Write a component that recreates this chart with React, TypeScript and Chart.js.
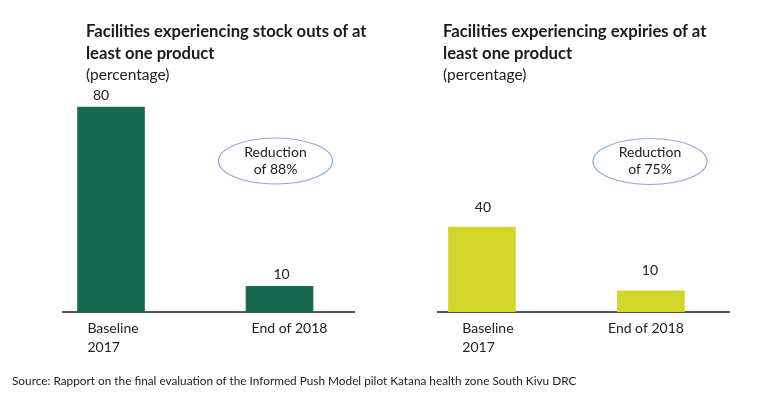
import React, { useEffect, useRef } from "react";
import { Chart, registerables } from "chart.js";

Chart.register(...registerables);

// ---------- data ----------
const categoryLines: string[][] = [["Baseline", "2017"], ["End of 2018"]];
const stockOutValues = [80, 10];
const expiryValues = [40, 10];
const stockOutTitle = ["Facilities experiencing stock outs of at", "least one product"];
const expiryTitle = ["Facilities experiencing expiries of at", "least one product"];
const unitLabel = "(percentage)";
const stockOutNote = ["Reduction", "of 88%"];
const expiryNote = ["Reduction", "of 75%"];
const sourceText =
  "Source: Rapport on the final evaluation of the Informed Push Model pilot Katana health zone South Kivu DRC";

const FONT = "Lato, 'Open Sans', sans-serif";
const TEXT = "#222222";

type PanelSpec = {
  values: number[];
  color: string;
  canvasLeft: number;
  padding: { left: number; right: number; top: number; bottom: number };
  xMin: number;
  xMax: number;
  yMax: number;
  valueGap: number;
  valueDx: number[];
  labelDx: number[];
  note: string[];
  noteCx: number;
  noteCy: number;
};

const decorPlugin = {
  id: "panelDecor",
  afterDatasetsDraw(chart: any, _args: any, opts: any) {
    const ctx: CanvasRenderingContext2D = chart.ctx;
    const meta = chart.getDatasetMeta(0);
    const data = chart.data.datasets[0].data as { x: number; y: number }[];
    const xScale = chart.scales.x;
    const area = chart.chartArea;
    ctx.save();
    ctx.font = `14px ${FONT}`;
    ctx.fillStyle = TEXT;
    ctx.textBaseline = "middle";

    // value labels
    ctx.textAlign = "center";
    meta.data.forEach((bar: any, i: number) => {
      ctx.fillText(String(data[i].y), bar.x + (opts.valueDx[i] || 0), bar.y - opts.valueGap);
    });

    // category labels (block centred on first line, lines left-aligned)
    ctx.textAlign = "left";
    (opts.categoryLines as string[][]).forEach((lines, i) => {
      const cx = xScale.getPixelForValue(i) + (opts.labelDx[i] || 0);
      const left = cx - ctx.measureText(lines[0]).width / 2;
      lines.forEach((l, j) => ctx.fillText(l, left, area.bottom + 16 + j * 19));
    });

    // ellipse note
    ctx.beginPath();
    ctx.ellipse(opts.noteCx, opts.noteCy, 57, 23, 0, 0, Math.PI * 2);
    ctx.strokeStyle = "#8faadc";
    ctx.lineWidth = 1.2;
    ctx.stroke();
    ctx.textAlign = "center";
    (opts.note as string[]).forEach((l, j) =>
      ctx.fillText(l, opts.noteCx, opts.noteCy - 9 + j * 17)
    );
    ctx.restore();
  },
};

function Panel({ spec }: { spec: PanelSpec }) {
  const ref = useRef<HTMLCanvasElement>(null);
  useEffect(() => {
    const chart = new Chart(ref.current as HTMLCanvasElement, {
      type: "bar",
      data: {
        datasets: [
          {
            data: spec.values.map((v, i) => ({ x: i, y: v })) as any,
            backgroundColor: spec.color,
            barThickness: 67,
          },
        ],
      },
      options: {
        animation: false,
        responsive: false,
        maintainAspectRatio: false,
        layout: { padding: spec.padding },
        plugins: {
          legend: { display: false },
          tooltip: { enabled: false },
          title: { display: false },
          panelDecor: {
            categoryLines,
            valueGap: spec.valueGap,
            valueDx: spec.valueDx,
            labelDx: spec.labelDx,
            note: spec.note,
            noteCx: spec.noteCx,
            noteCy: spec.noteCy,
          },
        } as any,
        scales: {
          x: {
            type: "linear",
            offset: false,
            min: spec.xMin,
            max: spec.xMax,
            ticks: { display: false },
            grid: { display: false, drawTicks: false, offset: false },
            border: { display: true, color: "#595959", width: 2 },
          },
          y: { display: false, min: 0, max: spec.yMax },
        },
      },
      plugins: [decorPlugin as any],
    });
    return () => chart.destroy();
  }, [spec]);
  return (
    <canvas
      ref={ref}
      width={384}
      height={400}
      style={{ position: "absolute", left: spec.canvasLeft, top: 0, width: 384, height: 400 }}
    />
  );
}

const leftSpec: PanelSpec = {
  values: stockOutValues,
  color: "#17694f",
  canvasLeft: 0,
  padding: { left: 63, right: 30, top: 56, bottom: 88 },
  xMin: -0.285,
  xMax: 1.442,
  yMax: 100,
  valueGap: 12,
  valueDx: [-10, 2],
  labelDx: [2, 10],
  note: stockOutNote,
  noteCx: 275.5,
  noteCy: 161,
};

const rightSpec: PanelSpec = {
  values: expiryValues,
  color: "#d3d62a",
  canvasLeft: 384,
  padding: { left: 54, right: 39, top: 100, bottom: 88 },
  xMin: -0.26,
  xMax: 1.462,
  yMax: 100,
  valueGap: 20,
  valueDx: [1, -1],
  labelDx: [6, -5],
  note: expiryNote,
  noteCx: 266,
  noteCy: 161.5,
};

function TitleBlock({ left, lines, size }: { left: number; lines: string[]; size: number }) {
  return (
    <>
      <div
        style={{
          position: "absolute",
          left,
          top: 19.5,
          fontSize: size,
          lineHeight: "22.5px",
          fontWeight: 700,
          color: "#1a1a1a",
          whiteSpace: "nowrap",
        }}
      >
        {lines.map((l, i) => (
          <div key={i}>{l}</div>
        ))}
      </div>
      <div
        style={{
          position: "absolute",
          left,
          top: 64,
          fontSize: 15.5,
          lineHeight: "20px",
          color: TEXT,
          whiteSpace: "nowrap",
        }}
      >
        {unitLabel}
      </div>
    </>
  );
}

export default function App() {
  return (
    <div
      style={{
        position: "absolute",
        left: 0,
        top: 0,
        width: 768,
        height: 400,
        background: "#ffffff",
        fontFamily: FONT,
        overflow: "hidden",
      }}
    >
      <Panel spec={leftSpec} />
      <Panel spec={rightSpec} />
      <TitleBlock left={86} lines={stockOutTitle} size={16.6} />
      <TitleBlock left={443} lines={expiryTitle} size={16.7} />
      <div
        style={{
          position: "absolute",
          left: 12,
          top: 373,
          fontSize: 11.8,
          lineHeight: "16px",
          color: TEXT,
          whiteSpace: "nowrap",
        }}
      >
        {sourceText}
      </div>
    </div>
  );
}
